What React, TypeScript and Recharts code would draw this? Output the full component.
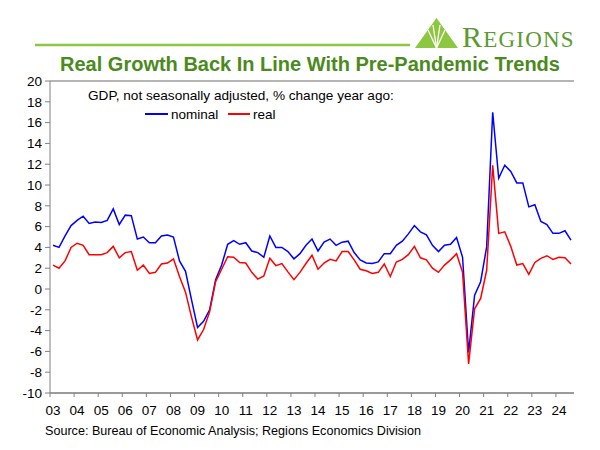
import React from 'react';
import { LineChart, Line, XAxis, YAxis, CartesianGrid } from 'recharts';

// quarterly, 2003Q1 .. 2024Q3
const years = ['03', '04', '05', '06', '07', '08', '09', '10', '11', '12', '13', '14', '15', '16', '17', '18', '19', '20', '21', '22', '23', '24'];

const nominal = [
  4.2, 4.0, 5.1, 6.1, 6.6, 7.0, 6.3, 6.45, 6.4, 6.6, 7.7, 6.2, 7.1, 7.05, 4.8, 5.0,
  4.45, 4.45, 5.1, 5.2, 5.0, 2.7, 1.7, -1.05, -3.7, -3.1, -2.0, 0.9, 2.3, 4.3, 4.65, 4.3,
  4.45, 3.65, 3.5, 3.05, 5.1, 4.0, 4.0, 3.6, 2.9, 3.4, 4.2, 4.8, 3.65, 4.5, 4.8, 4.2,
  4.5, 4.6, 3.5, 2.8, 2.5, 2.45, 2.6, 3.4, 3.4, 4.2, 4.6, 5.3, 6.1, 5.5, 5.2, 4.2,
  3.6, 4.2, 4.3, 4.95, 3.05, -6.1, -0.6, 0.7, 4.05, 17.0, 10.65, 11.9, 11.3, 10.2, 10.2, 7.9,
  8.1, 6.5, 6.2, 5.35, 5.35, 5.6, 4.7,
];

const real = [
  2.3, 2.0, 2.7, 4.0, 4.4, 4.2, 3.3, 3.3, 3.3, 3.5, 4.1, 3.0, 3.5, 3.6, 1.8, 2.3,
  1.5, 1.6, 2.4, 2.5, 2.9, 1.2, -0.3, -2.7, -4.9, -3.9, -2.2, 0.7, 1.9, 3.1, 3.05, 2.55,
  2.5, 1.6, 0.95, 1.25, 2.95, 2.25, 2.45, 1.65, 0.9, 1.6, 2.45, 3.25, 1.9, 2.5, 2.85, 2.7,
  3.6, 3.6, 2.8, 1.9, 1.75, 1.5, 1.6, 2.4, 1.2, 2.6, 2.85, 3.3, 4.1, 3.0, 2.8, 2.0,
  1.6, 2.3, 2.8, 3.4, 1.6, -7.2, -1.9, -0.9, 1.8, 11.9, 5.35, 5.5, 4.1, 2.3, 2.45, 1.4,
  2.55, 2.95, 3.2, 2.85, 3.05, 3.0, 2.4,
];

const yTicks = [-10, -8, -6, -4, -2, 0, 2, 4, 6, 8, 10, 12, 14, 16, 18, 20];

const quarters = years.flatMap((yr) => ['Q1', 'Q2', 'Q3', 'Q4'].map((q) => yr + q)).slice(0, nominal.length);
const data = quarters.map((q, i) => ({ q, nominal: nominal[i], real: real[i] }));
const yearTicks = years.map((yr) => yr + 'Q1');

const FONT = '"Liberation Sans", Arial, sans-serif';

const YearTick = (props: any) => {
  const { x, y, payload } = props;
  const half = payload && payload.offset != null ? payload.offset : 3;
  return (
    <g>
      <line x1={x - half} x2={x - half} y1={y} y2={y + 4} stroke='#808080' strokeWidth={1} />
      <text x={x} y={y + 22} textAnchor='middle' fontSize={13.5} fontFamily={FONT} fill='#000'>
        {String(payload.value).slice(0, 2)}
      </text>
    </g>
  );
};

function Logo() {
  return (
    <g>
      <polygon points='415,48 436.5,18 458,48' fill='#8dc63f' />
      <line x1='436.5' y1='48' x2='428' y2='30' stroke='#fff' strokeWidth={1.3} />
      <line x1='436.5' y1='48' x2='433' y2='25' stroke='#fff' strokeWidth={1.3} />
      <line x1='436.5' y1='48' x2='440' y2='25' stroke='#fff' strokeWidth={1.3} />
      <line x1='436.5' y1='48' x2='445' y2='30' stroke='#fff' strokeWidth={1.3} />
      <text x={462} y={47} fill='#5a9a2e' fontFamily='"Liberation Serif", "DejaVu Serif", serif' letterSpacing={1.2}>
        <tspan fontSize={30}>R</tspan>
        <tspan fontSize={23}>EGIONS</tspan>
      </text>
    </g>
  );
}

export default function App() {
  return (
    <div style={{ position: 'absolute', left: 0, top: 0, width: 600, height: 450, background: '#fff', fontFamily: FONT }}>
      <LineChart width={600} height={450} data={data} margin={{ top: 81, right: 26, bottom: 27, left: 10 }}>
        <CartesianGrid vertical={false} stroke='#9c9c9c' strokeWidth={1.6} />
        <XAxis
          dataKey='q'
          scale='band'
          ticks={yearTicks}
          interval={0}
          height={30}
          tickSize={0}
          tickMargin={0}
          tickLine={false}
          axisLine={{ stroke: '#808080' }}
          tick={<YearTick />}
        />
        <YAxis
          yAxisId='left'
          domain={[-10, 20]}
          ticks={yTicks}
          interval={0}
          width={40}
          tickSize={5}
          tickMargin={3}
          axisLine={{ stroke: '#808080' }}
          tickLine={{ stroke: '#808080' }}
          tick={{ fontSize: 13.5, fill: '#000', fontFamily: FONT }}
        />
        <YAxis yAxisId='right' orientation='right' domain={[-10, 20]} width={0} tick={false} tickLine={false} axisLine={{ stroke: '#a0a0a0' }} />
        <Line yAxisId='left' dataKey='nominal' stroke='#0000ff' strokeWidth={1.5} dot={false} type='linear' isAnimationActive={false} />
        <Line yAxisId='left' dataKey='real' stroke='#ff0000' strokeWidth={1.5} dot={false} type='linear' isAnimationActive={false} />
      </LineChart>
      <svg width={600} height={450} style={{ position: 'absolute', left: 0, top: 0, pointerEvents: 'none' }}>
        <line x1={35} x2={410} y1={45} y2={45} stroke='#8dc63f' strokeWidth={2.5} />
        <Logo />
        <text x={310} y={71} textAnchor='middle' fontSize={20} fontWeight='bold' fill='#4b8a1c' fontFamily={FONT}>
          Real Growth Back In Line With Pre-Pandemic Trends
        </text>
        <text x={88} y={100} fontSize={13.6} fill='#000' fontFamily={FONT}>
          GDP, not seasonally adjusted, % change year ago:
        </text>
        <line x1={145} x2={168} y1={114} y2={114} stroke='#0000ff' strokeWidth={2} />
        <text x={171} y={119} fontSize={13.5} fill='#000' fontFamily={FONT}>nominal</text>
        <line x1={228} x2={250} y1={114} y2={114} stroke='#ff0000' strokeWidth={2} />
        <text x={253} y={119} fontSize={13.5} fill='#000' fontFamily={FONT}>real</text>
        <text x={45} y={435} fontSize={12.6} fill='#000' fontFamily={FONT}>
          Source: Bureau of Economic Analysis; Regions Economics Division
        </text>
      </svg>
    </div>
  );
}
